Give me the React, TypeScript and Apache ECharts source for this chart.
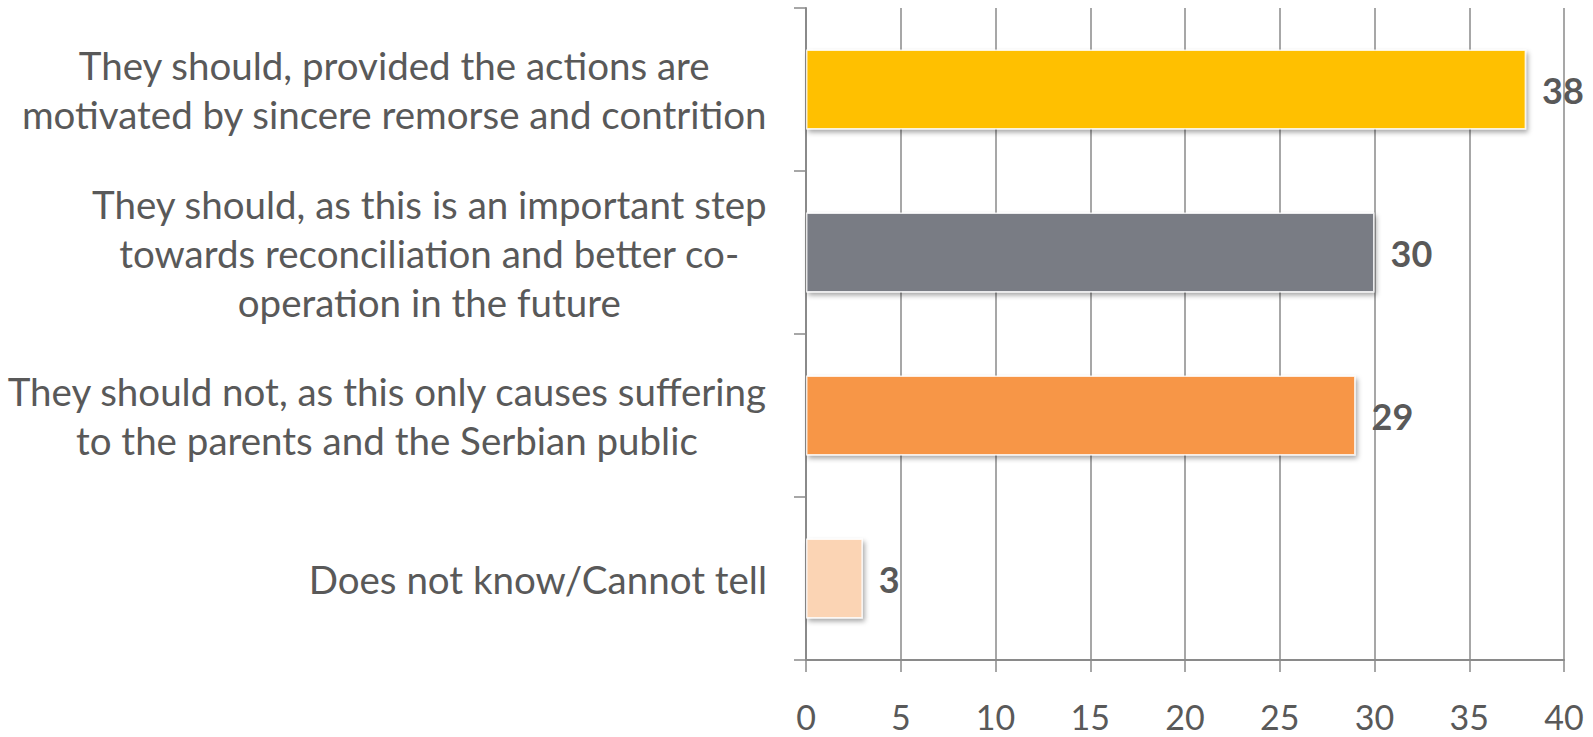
import React, { useEffect, useRef } from "react";
import * as echarts from "echarts";

const categories: string[] = [
  "They should, provided the actions are\nmotivated by sincere remorse and contrition",
  "They should, as this is an important step\ntowards reconciliation and better co-\noperation in the future",
  "They should not, as this only causes suffering\nto the parents and the Serbian public",
  "Does not know/Cannot tell",
];
const values: number[] = [38, 30, 29, 3];
const barColors: string[] = ["#FFC000", "#797B84", "#F79646", "#FBD4B4"];
const xTicks = { min: 0, max: 40, interval: 5 };

const FONT = "Lato";
const TEXT = "#595959";
const GRID = "#8a8a8a";

export default function App() {
  const ref = useRef<HTMLDivElement>(null);
  useEffect(() => {
    document.body.style.margin = "0";
    if (!ref.current) return;
    const chart = echarts.init(ref.current, undefined, { renderer: "svg" });
    chart.setOption({
      animation: false,
      backgroundColor: "#ffffff",
      grid: { left: 806, right: 29, top: 8, bottom: 77, containLabel: false },
      xAxis: {
        type: "value",
        min: xTicks.min,
        max: xTicks.max,
        interval: xTicks.interval,
        axisLine: { show: true, lineStyle: { color: GRID, width: 2 } },
        axisTick: { show: true, length: 12, lineStyle: { color: GRID, width: 1.5 } },
        splitLine: { show: true, lineStyle: { color: GRID, width: 1.5 } },
        axisLabel: { color: TEXT, fontFamily: FONT, fontSize: 34, margin: 39 },
      },
      yAxis: {
        type: "category",
        inverse: true,
        data: categories,
        axisLine: { show: true, lineStyle: { color: GRID, width: 2 } },
        axisTick: { show: true, length: 12, lineStyle: { color: GRID, width: 1.5 } },
        axisLabel: {
          margin: 39,
          align: "right",
          formatter: (v: string) =>
            v
              .split("\n")
              .map((l) => "{c|" + l + "}")
              .join("\n"),
          rich: {
            c: {
              align: "center",
              fontFamily: FONT,
              fontSize: 38.5,
              lineHeight: 49,
              color: TEXT,
            },
          },
        },
      },
      series: [
        {
          type: "bar",
          barWidth: "49%",
          data: values.map((v, i) => ({
            value: v,
            itemStyle: { color: barColors[i] },
          })),
          itemStyle: {
            borderColor: "rgba(255,255,255,0.8)",
            borderWidth: 1.5,
            shadowColor: "rgba(0,0,0,0.35)",
            shadowBlur: 5,
            shadowOffsetX: 2,
            shadowOffsetY: 3,
          },
          label: {
            show: true,
            position: "right",
            distance: 16,
            color: TEXT,
            fontFamily: FONT,
            fontWeight: "bold",
            fontSize: 36,
          },
        },
      ],
    });
    return () => chart.dispose();
  }, []);
  return <div ref={ref} style={{ width: 1593, height: 737 }} />;
}
